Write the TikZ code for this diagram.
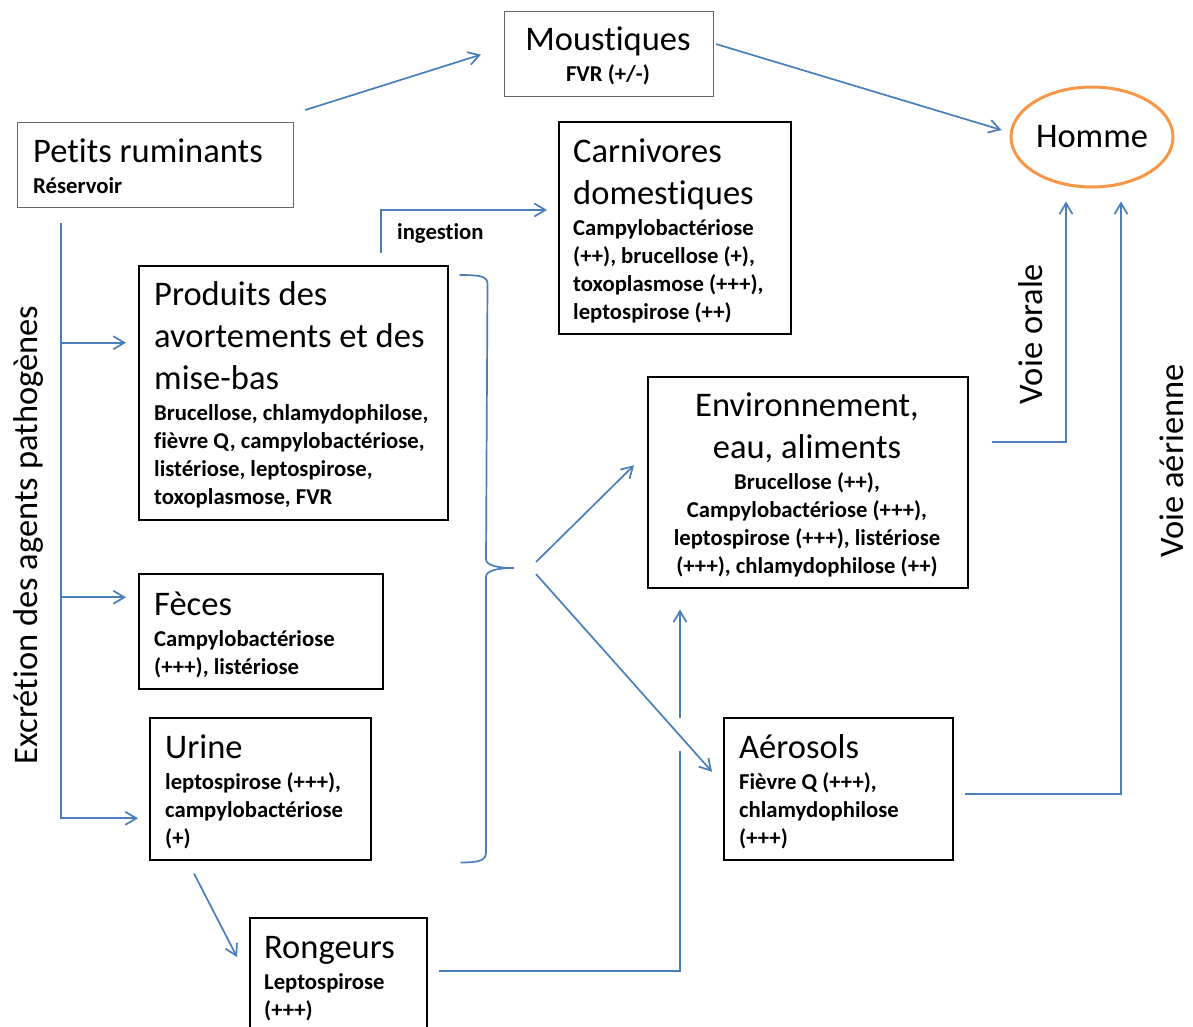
\documentclass[tikz,border=0pt]{standalone}
\usepackage{fontspec}
\setmainfont{Carlito}[Ligatures=NoCommon]
\usetikzlibrary{calc,arrows.meta,shapes.geometric}
\definecolor{linkblue}{RGB}{74,126,187}
\definecolor{hommeorange}{RGB}{247,150,70}
\newcommand\titlef{\fontsize{34.5}{42}\selectfont}
\newcommand\detailf{\fontsize{22.7}{28}\selectfont\bfseries}
\newcommand\gapline{\par\vspace{3pt}}

\begin{document}
\begin{tikzpicture}[x=1pt,y=-1pt,
  box/.style={draw=black,line width=1.5pt,inner sep=0pt,anchor=north west},
  lightbox/.style={box,draw=black!60,line width=1.2pt},
  txt/.style={inner sep=0pt,anchor=base west},
  ctxt/.style={inner sep=0pt,anchor=base},
  link/.style={draw=linkblue,line width=1.7pt},
  arr/.style={link,-{Straight Barb[length=11pt,width=13pt]}},
]
\useasboundingbox (0,0) rectangle (1193,1026);
\fill[white] (0,0) rectangle (1193,1026);
\clip (0,0) rectangle (1193,1026);

% boxes
\node[lightbox,minimum width=276pt,minimum height=85pt] (pr) at (17,122) {};
\node[lightbox,minimum width=209pt,minimum height=85pt] (mous) at (504,11) {};
\node[box,minimum width=232pt,minimum height=212pt] (carn) at (558,121) {};
\node[box,minimum width=309pt,minimum height=254pt] (prod) at (138,265) {};
\node[box,minimum width=244pt,minimum height=115pt] (feces) at (138,573) {};
\node[box,minimum width=221pt,minimum height=142pt] (urine) at (149,717) {};
\node[box,minimum width=177pt,minimum height=125pt] (rong) at (249,917) {};
\node[box,minimum width=320pt,minimum height=211pt] (env) at (647,376) {};
\node[box,minimum width=229pt,minimum height=142pt] (aer) at (723,717) {};
\node[draw=hommeorange,line width=3pt,ellipse,inner sep=0pt,
      minimum width=162pt,minimum height=100pt] (homme) at (1092,137) {\titlef Homme};

% box contents
\node[txt] (prT) at (33,162) {\begin{minipage}[t]{255pt}\raggedright
  \titlef Petits ruminants\gapline\detailf Réservoir\end{minipage}};
\node[ctxt] (mousT) at (608,50) {\begin{minipage}[t]{200pt}\centering
  \titlef Moustiques\gapline\detailf FVR (+/-)\end{minipage}};
\node[txt] (carnT) at (573,162) {\begin{minipage}[t]{215pt}\raggedright
  \titlef Carnivores\\domestiques\gapline\detailf Campylobactériose\\(++), brucellose (+),\\toxoplasmose (+++),\\leptospirose (++)\end{minipage}};
\node[txt] (prodT) at (154,305) {\begin{minipage}[t]{290pt}\raggedright
  \titlef Produits des\\avortements et des\\mise-bas\gapline\detailf Brucellose, chlamydophilose,\\fièvre Q,  campylobactériose,\\listériose, leptospirose,\\toxoplasmose, FVR\end{minipage}};
\node[txt] (fecesT) at (154,615) {\begin{minipage}[t]{225pt}\raggedright
  \titlef Fèces\gapline\detailf Campylobactériose\\(+++), listériose\end{minipage}};
\node[txt] (urineT) at (165,758) {\begin{minipage}[t]{200pt}\raggedright
  \titlef Urine\gapline\detailf leptospirose (+++),\\campylobactériose\\(+)\end{minipage}};
\node[txt] (rongT) at (264,958) {\begin{minipage}[t]{160pt}\raggedright
  \titlef Rongeurs\gapline\detailf Leptospirose\\(+++)\end{minipage}};
\node[ctxt] (envT) at (807,416) {\begin{minipage}[t]{310pt}\centering
  \titlef Environnement,\\eau, aliments\gapline\detailf Brucellose (++),\\Campylobactériose (+++),\\leptospirose (+++), listériose\\(+++), chlamydophilose (++)\end{minipage}};
\node[txt] (aerT) at (739,758) {\begin{minipage}[t]{210pt}\raggedright
  \titlef Aérosols\gapline\detailf Fièvre Q (+++),\\chlamydophilose\\(+++)\end{minipage}};

% side labels
\node[ctxt,rotate=90] (excr) at (37,535) {\titlef Excrétion des agents pathogènes};
\node[ctxt,rotate=90] (orale) at (1042,334) {\titlef Voie orale};
\node[ctxt,rotate=90] (aerienne) at (1183,461) {\titlef Voie aérienne};
\node[txt] (ing) at (397,239) {\detailf ingestion};

% vectors and human exposure
\draw[arr] ($(pr.north east)+(11,-12)$) -- ($(mous.west)+(-23,0.5)$);
\draw[arr] ($(mous.east)+(2,-10)$) -- ($(homme.west)+(-8,-7)$);

% excretion trunk
\coordinate (trunk) at ($(pr.south west)+(44,15)$);
\coordinate (prodIn) at ($(prod.west)+(-12,-50)$);
\coordinate (fecesIn) at ($(feces.west)+(-12,-34)$);
\draw[arr] (trunk) |- ($(urine.west)+(-11,29.5)$);
\draw[arr] (trunk |- prodIn) -- (prodIn);
\draw[arr] (trunk |- fecesIn) -- (fecesIn);

% ingestion by carnivores
\draw[arr] ($(prod.north west)+(243,-12)$) |- ($(carn.north west)+(-11,89)$);

% brace gathering the excreta
\coordinate (braceTop) at ($(prod.north east)+(11,10)$);
\coordinate (braceBot) at ($(urine.south east)+(89,2)$);
\coordinate (braceTip) at (514,568);
\draw[link] (braceTop) .. controls +(20,0) and +(0,-8) .. ++(28,9)
  -- (486,559) .. controls +(0,6) and +(-18,0) .. (braceTip)
  .. controls +(-18,0) and +(0,-6) .. (486,577)
  -- (486,852) .. controls +(0,8) and +(20,0) .. (braceBot);
\draw[arr] ($(braceTip)+(22,-6)$) -- ($(env.west)+(-13,-17)$);
\draw[arr] ($(braceTip)+(22,6)$) -- ($(aer.west)+(-11,-17)$);

% routes to humans
\draw[arr] ($(env.east)+(23,-40)$) -| ($(homme.south)+(-26,13)$);
\draw[arr] ($(aer.east)+(11,5)$) -| ($(homme.south)+(29,13)$);

% rodents
\draw[arr] ($(urine.south west)+(45,13)$) -- ($(rong.north west)+(-12,40)$);
\coordinate (envIn) at ($(env.south west)+(33,21)$);
\draw[link] ($(rong.north east)+(11,54)$) -| ($(envIn)+(0,141)$);
\draw[arr] ($(envIn)+(0,108)$) -- (envIn);
\end{tikzpicture}
\end{document}
